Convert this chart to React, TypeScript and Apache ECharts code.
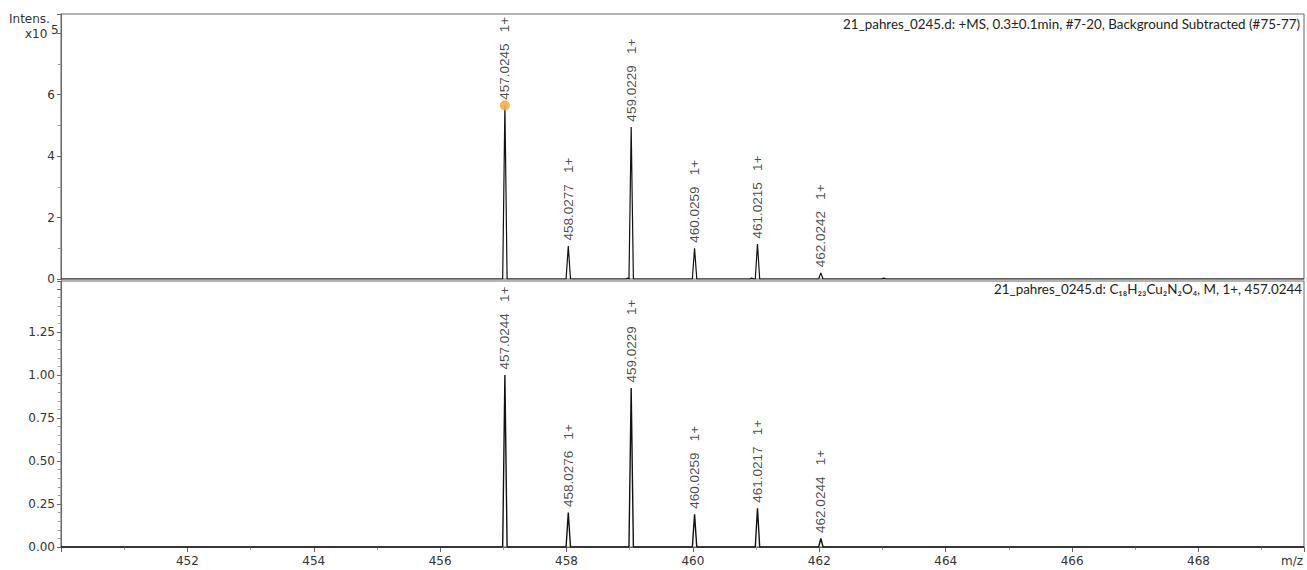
import React, { useEffect, useRef } from "react";
import * as echarts from "echarts";

// m/z axis range
const mzMin = 450;
const mzMax = 469.67;
const mzTicks = [452, 454, 456, 458, 460, 462, 464, 466, 468];

// Top panel: measured spectrum (intensity x10^5)
const topPeakMz = [457.0245, 458.0277, 459.0229, 460.0259, 461.0215, 462.0242];
const topPeakInt = [5.65, 1.07, 4.94, 1.0, 1.14, 0.2];
const topPeakLabels = ["457.0245", "458.0277", "459.0229", "460.0259", "461.0215", "462.0242"];
const topMinorMz = [458.97, 460.93, 463.02];
const topMinorInt = [0.03, 0.03, 0.03];

// Bottom panel: simulated isotope pattern (relative)
const botPeakMz = [457.0244, 458.0276, 459.0229, 460.0259, 461.0217, 462.0244];
const botPeakInt = [1.0, 0.2, 0.924, 0.19, 0.225, 0.05];
const botPeakLabels = ["457.0244", "458.0276", "459.0229", "460.0259", "461.0217", "462.0244"];

const chargeLabel = "1+";
const topTitle = "21_pahres_0245.d: +MS, 0.3±0.1min, #7-20, Background Subtracted (#75-77)";
const botTitle = "21_pahres_0245.d: C₁₈H₂₃Cu₂N₂O₄, M, 1+, 457.0244";

const peakHalfWidth = 0.035;

function profile(mz: number[], inten: number[]): number[][] {
  const pts = mz.map((m, i) => ({ m, h: inten[i] })).sort((a, b) => a.m - b.m);
  const out: number[][] = [[mzMin, 0]];
  pts.forEach((p) => {
    out.push([p.m - peakHalfWidth, 0]);
    out.push([p.m, p.h]);
    out.push([p.m + peakHalfWidth, 0]);
  });
  out.push([mzMax, 0]);
  return out;
}

const AXIS_FONT = "'DejaVu Sans', Verdana, sans-serif";
const TITLE_FONT = "Lato, 'DejaVu Sans', sans-serif";
const PEAK_FONT = "'Liberation Sans', Arial, sans-serif";

export default function App() {
  const ref = useRef<HTMLDivElement>(null);
  useEffect(() => {
    if (!ref.current) return;
    const chart = echarts.init(ref.current, null, { renderer: "svg" });
    const axisColor = "#666";
    const labelStyle = {
      show: true,
      position: "top" as const,
      distance: 5,
      rotate: 90,
      align: "left" as const,
      verticalAlign: "middle" as const,
      fontFamily: PEAK_FONT,
      fontSize: 13.5,
      color: "#1a1a1a",
    };
    const option: any = {
      animation: false,
      grid: [
        { left: 61, right: 3, top: 14, height: 265, show: true, borderColor: axisColor, borderWidth: 1, backgroundColor: "transparent" },
        { left: 61, right: 3, top: 281, height: 266, show: true, borderColor: axisColor, borderWidth: 1, backgroundColor: "transparent" },
      ],
      xAxis: [
        {
          type: "value", gridIndex: 0, min: mzMin, max: mzMax, interval: 2,
          axisLine: { show: false }, axisTick: { show: false }, axisLabel: { show: false },
          splitLine: { show: false },
        },
        {
          type: "value", gridIndex: 1, min: mzMin, max: mzMax, interval: 2,
          axisLine: { show: true, onZero: false, lineStyle: { color: axisColor } },
          axisTick: { show: true, length: 5, lineStyle: { color: axisColor } },
          minorTick: { show: true, splitNumber: 2, length: 3, lineStyle: { color: "#999" } },
          axisLabel: {
            fontFamily: AXIS_FONT, fontSize: 12, color: "#333", margin: 8,
            formatter: (v: number) => (mzTicks.indexOf(v) >= 0 ? String(v) : ""),
          },
          splitLine: { show: false },
        },
      ],
      yAxis: [
        {
          type: "value", gridIndex: 0, min: 0, max: 8.62, interval: 2,
          axisLine: { show: true, lineStyle: { color: axisColor } },
          axisTick: { show: true, length: 4, lineStyle: { color: axisColor } },
          minorTick: { show: true, splitNumber: 2, length: 3, lineStyle: { color: "#999" } },
          axisLabel: {
            fontFamily: AXIS_FONT, fontSize: 12, color: "#333", margin: 6,
            formatter: (v: number) => (v <= 6.01 ? String(Math.round(v)) : ""),
          },
          splitLine: { show: false },
        },
        {
          type: "value", gridIndex: 1, min: 0, max: 1.547, interval: 0.25,
          axisLine: { show: true, lineStyle: { color: axisColor } },
          axisTick: { show: true, length: 4, lineStyle: { color: axisColor } },
          minorTick: { show: true, splitNumber: 5, length: 3, lineStyle: { color: "#999" } },
          axisLabel: {
            fontFamily: AXIS_FONT, fontSize: 12, color: "#333", margin: 6,
            formatter: (v: number) => (v <= 1.26 ? v.toFixed(2) : ""),
          },
          splitLine: { show: false },
        },
      ],
      series: [
        {
          type: "line", xAxisIndex: 0, yAxisIndex: 0, symbol: "none",
          data: profile(topPeakMz.concat(topMinorMz), topPeakInt.concat(topMinorInt)),
          lineStyle: { color: "#111", width: 1.2 },
        },
        {
          type: "scatter", xAxisIndex: 0, yAxisIndex: 0, symbolSize: 1,
          itemStyle: { color: "transparent" },
          data: topPeakMz.map((m, i) => ({ value: [m, topPeakInt[i]], name: topPeakLabels[i] })),
          label: { ...labelStyle, formatter: (p: any) => `${p.name}   ${chargeLabel}` },
          z: 5,
        },
        {
          type: "scatter", xAxisIndex: 0, yAxisIndex: 0, symbolSize: 10,
          itemStyle: { color: "#f5ad45", opacity: 0.9 },
          data: [[topPeakMz[0], topPeakInt[0]]],
          z: 4,
        },
        {
          type: "line", xAxisIndex: 1, yAxisIndex: 1, symbol: "none",
          data: profile(botPeakMz, botPeakInt),
          lineStyle: { color: "#111", width: 1.4 },
        },
        {
          type: "scatter", xAxisIndex: 1, yAxisIndex: 1, symbolSize: 1,
          itemStyle: { color: "transparent" },
          data: botPeakMz.map((m, i) => ({ value: [m, botPeakInt[i]], name: botPeakLabels[i] })),
          label: { ...labelStyle, formatter: (p: any) => `${p.name}   ${chargeLabel}` },
          z: 5,
        },
      ],
      graphic: [
        { type: "text", left: 9, top: 13, style: { text: "Intens.", fontFamily: AXIS_FONT, fontSize: 12, fill: "#333" } },
        { type: "text", left: 25, top: 28, style: { text: "x10", fontFamily: AXIS_FONT, fontSize: 12, fill: "#333" } },
        { type: "text", left: 51, top: 24, style: { text: "5", fontFamily: AXIS_FONT, fontSize: 12, fill: "#333" } },
        { type: "text", right: 7, top: 17, style: { text: topTitle, fontFamily: TITLE_FONT, fontSize: 13.4, fill: "#222" } },
        { type: "text", right: 5, top: 282, style: { text: botTitle, fontFamily: TITLE_FONT, fontSize: 13.4, fill: "#222" } },
        { type: "text", right: 4, top: 555, style: { text: "m/z", fontFamily: AXIS_FONT, fontSize: 12, fill: "#333" } },
      ],
    };
    chart.setOption(option);
    return () => chart.dispose();
  }, []);
  return <div ref={ref} style={{ width: 1307, height: 570, position: "absolute", left: 0, top: 0 }} />;
}
